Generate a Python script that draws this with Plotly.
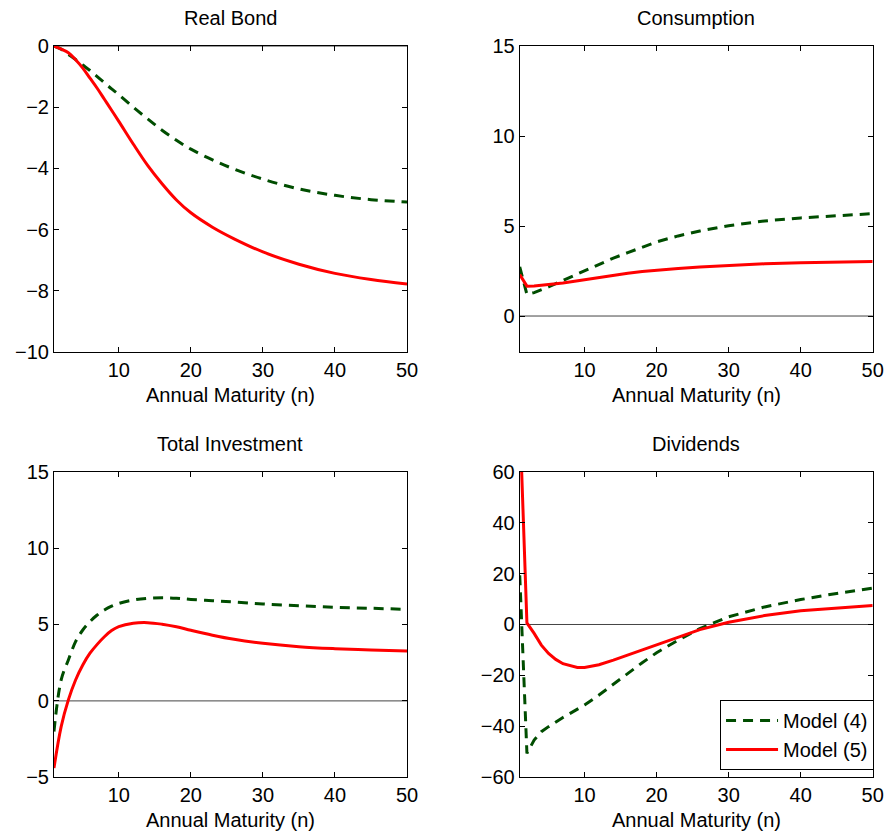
import plotly.graph_objects as go

# Maturities (years)
maturity = [1, 2, 3, 4, 5, 6, 7, 8, 9, 10, 12, 14, 16, 18, 20, 23, 26, 30, 35, 40, 45, 50]

# Real Bond
bond_m4 = [0, -0.1, -0.27, -0.44, -0.62, -0.8, -1.0, -1.2, -1.4, -1.59, -2.0, -2.38, -2.75, -3.08,
           -3.37, -3.72, -4.02, -4.35, -4.67, -4.88, -5.02, -5.1]
bond_m5 = [0, -0.1, -0.22, -0.45, -0.72, -1.05, -1.38, -1.74, -2.1, -2.46, -3.2, -3.9, -4.5, -5.03,
           -5.45, -5.92, -6.3, -6.73, -7.13, -7.43, -7.63, -7.78]

# Consumption
cons_m4 = [2.73, 1.2, 1.3, 1.45, 1.62, 1.8, 1.98, 2.15, 2.33, 2.5, 2.88, 3.22, 3.52, 3.82,
           4.12, 4.45, 4.72, 5.02, 5.28, 5.45, 5.58, 5.69]
cons_m5 = [2.3, 1.66, 1.67, 1.7, 1.74, 1.79, 1.84, 1.9, 1.96, 2.03, 2.16, 2.28, 2.38, 2.47,
           2.55, 2.64, 2.72, 2.81, 2.9, 2.96, 3.0, 3.03]

# Total Investment
inv_m4 = [-2.0, 1.37, 2.68, 3.88, 4.64, 5.19, 5.62, 5.95, 6.2, 6.38, 6.6, 6.71, 6.75, 6.72,
          6.64, 6.56, 6.47, 6.34, 6.23, 6.12, 6.06, 5.99]
inv_m5 = [-4.4, -1.68, 0.07, 1.37, 2.35, 3.12, 3.7, 4.2, 4.6, 4.86, 5.08, 5.12, 5.02, 4.85,
          4.62, 4.3, 4.03, 3.77, 3.55, 3.42, 3.33, 3.27]

# Dividends
div_m4 = [19.3, -50.6, -45.4, -42.1, -40.1, -38.2, -36.5, -34.9, -33.2, -31.6, -27.7, -23.4, -19.2, -15.0,
          -11.1, -6.1, -1.6, 3.0, 6.9, 9.8, 12.2, 14.3]
div_m5 = [82.0, 0.6, -3.5, -8.1, -11.4, -13.7, -15.4, -16.3, -16.9, -16.9, -15.8, -14.0, -12.0, -9.8,
          -7.7, -4.8, -2.0, 0.9, 3.5, 5.4, 6.5, 7.45]

titles = ["Real Bond", "Consumption", "Total Investment", "Dividends"]
series = [(bond_m4, bond_m5), (cons_m4, cons_m5), (inv_m4, inv_m5), (div_m4, div_m5)]
yranges = [[-10, 0], [-2, 15], [-5, 15], [-60, 60]]
ydticks = [2, 5, 5, 20]
xticks = [10, 20, 30, 40, 50]
xlabel = "Annual Maturity (n)"
legend_names = ["Model (4)", "Model (5)"]

GREEN = "#004d00"
RED = "#ff0000"
FONT = "Liberation Sans, Arial, Helvetica, sans-serif"
FS = 20

xdomains = [[0.0609, 0.4594], [0.5866, 0.985], [0.0609, 0.4594], [0.5866, 0.985]]
ydomains = [[0.5764, 0.9446], [0.5764, 0.9446], [0.0646, 0.4324], [0.0646, 0.4324]]
smooth_panel = [True, False, True, False]

fig = go.Figure()
layout = {}
shapes = []
annotations = []
for i in range(4):
    k = "" if i == 0 else str(i + 1)
    xa, ya = "x" + k, "y" + k
    m4, m5 = series[i]
    shp = "spline" if smooth_panel[i] else "linear"
    # zero reference line
    shapes.append(dict(type="line", xref=xa + " domain", yref=ya, x0=0, x1=1, y0=0, y1=0,
                       line=dict(color="#444444", width=1), layer="below"))
    fig.add_trace(go.Scatter(x=maturity, y=m4, mode="lines", name=legend_names[0],
                             line=dict(color=GREEN, width=3, dash="10px,7px", shape=shp),
                             xaxis=xa, yaxis=ya, showlegend=(i == 3)))
    fig.add_trace(go.Scatter(x=maturity, y=m5, mode="lines", name=legend_names[1],
                             line=dict(color=RED, width=3, shape=shp),
                             xaxis=xa, yaxis=ya, showlegend=(i == 3)))
    axcommon = dict(showline=True, linecolor="black", linewidth=1, mirror="ticks",
                    ticks="inside", ticklen=5, tickcolor="black", showgrid=False, zeroline=False,
                    automargin=False,
                    tickfont=dict(family=FONT, size=FS, color="black"))
    layout["xaxis" + k] = dict(domain=xdomains[i], range=[1, 50], tickvals=xticks,
                               anchor=ya, **axcommon)
    layout["yaxis" + k] = dict(domain=ydomains[i], range=yranges[i], dtick=ydticks[i],
                               tick0=0, anchor=xa, **axcommon)
    xc = (xdomains[i][0] + xdomains[i][1]) / 2
    ytop = ydomains[i][1]
    ybot = ydomains[i][0]
    annotations.append(dict(text=titles[i], x=xc, y=ytop + 28 / 831, xref="paper", yref="paper",
                            showarrow=False, xanchor="center", yanchor="middle",
                            font=dict(family=FONT, size=FS, color="black")))
    annotations.append(dict(text=xlabel, x=xc, y=ybot - 43 / 831, xref="paper", yref="paper",
                            showarrow=False, xanchor="center", yanchor="middle",
                            font=dict(family=FONT, size=FS, color="black")))

fig.update_layout(
    width=886, height=831,
    margin=dict(l=0, r=0, t=0, b=0),
    paper_bgcolor="white", plot_bgcolor="white",
    shapes=shapes, annotations=annotations,
    legend=dict(x=0.9865, y=0.0734, xanchor="right", yanchor="bottom",
                bordercolor="black", borderwidth=1, bgcolor="white",
                font=dict(family=FONT, size=FS, color="black"),
                tracegroupgap=0, itemwidth=52),
    **layout,
)

fig.write_html("out.html", config={"responsive": False, "displayModeBar": False},
               post_script="document.body.style.margin='0';document.body.style.overflow='hidden';")
